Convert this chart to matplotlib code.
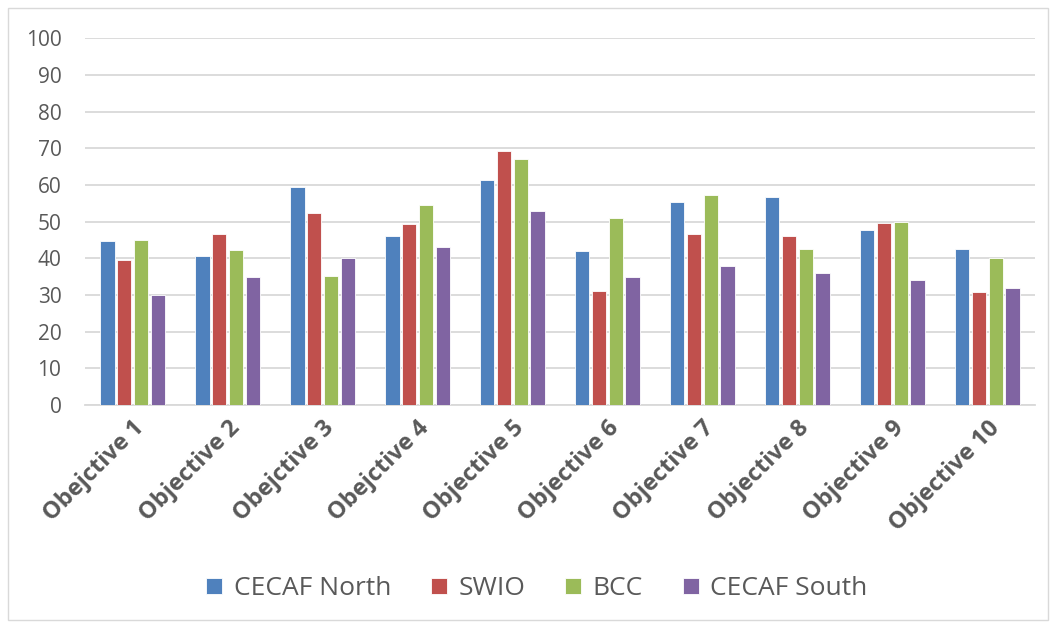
import numpy as np
import matplotlib.pyplot as plt
from matplotlib.patches import Rectangle

categories = ["Obejctive 1", "Objective 2", "Obejctive 3", "Obejctive 4", "Objective 5",
              "Objective 6", "Objective 7", "Objective 8", "Objective 9", "Objective 10"]
cecaf_north = [44.7, 40.6, 59.5, 46.2, 61.3, 41.9, 55.2, 56.6, 47.7, 42.4]
swio = [39.5, 46.5, 52.4, 49.4, 69.3, 31.2, 46.7, 46.0, 49.7, 30.8]
bcc = [45.1, 42.2, 35.2, 54.6, 67.1, 51.0, 57.2, 42.5, 50.0, 40.2]
cecaf_south = [30.0, 35.0, 40.0, 43.0, 53.0, 35.0, 38.0, 36.0, 34.0, 32.0]

series = [("CECAF North", cecaf_north, "#4f81bd"),
          ("SWIO", swio, "#c0504d"),
          ("BCC", bcc, "#9bbb59"),
          ("CECAF South", cecaf_south, "#8064a2")]

plt.rcParams["font.family"] = ["Open Sans", "DejaVu Sans"]
text_color = "#595959"

fig = plt.figure(figsize=(10.55, 6.25), dpi=100)
ax = fig.add_axes([0.0806, 0.352, 0.9004, 0.587])

x = np.arange(len(categories))
step = 0.178
width = 0.155
for i, (name, vals, color) in enumerate(series):
    ax.bar(x + (i - 1.5) * step, vals, width, color=color, label=name,
           edgecolor="white", linewidth=0.6, zorder=3)

ax.set_xlim(-0.5, len(categories) - 0.5)
ax.set_ylim(0, 100)
ax.set_yticks(range(0, 101, 10))
ax.yaxis.grid(True, color="#d9d9d9", linewidth=1.3, zorder=0)
for s in ["top", "right", "left"]:
    ax.spines[s].set_visible(False)
ax.spines["bottom"].set_color("#d9d9d9")
ax.spines["bottom"].set_linewidth(1.3)
ax.tick_params(length=0, colors=text_color)
ax.tick_params(axis="y", pad=17, labelsize=15)
ax.set_xticks(x)
ax.set_xticklabels(categories, rotation=45, ha="right", rotation_mode="anchor",
                   fontsize=17, fontweight="bold", color=text_color)
ax.tick_params(axis="x", pad=8)

fig.legend(loc="center", bbox_to_anchor=(0.509, 0.058), ncol=4, frameon=False,
           fontsize=19, handlelength=0.6, handleheight=0.6, columnspacing=1.5,
           handletextpad=0.45, labelcolor=text_color)

fig.patches.append(Rectangle((8 / 1055, 5 / 625), 1040 / 1055, 612 / 625,
                             transform=fig.transFigure, fill=False,
                             edgecolor="#d9d9d9", linewidth=1))

fig.savefig("out.png", dpi=100)
